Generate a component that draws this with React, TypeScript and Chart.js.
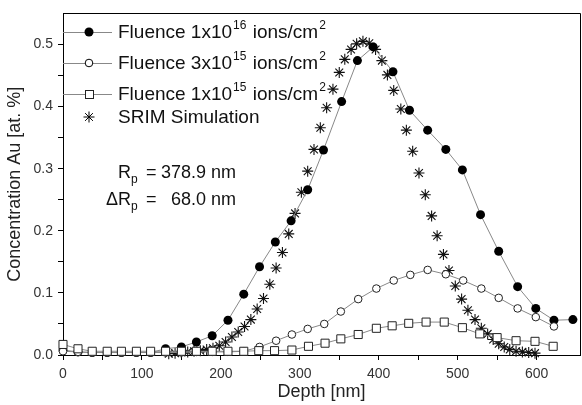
import React, { useEffect, useRef } from "react";
import { Chart, registerables } from "chart.js";

Chart.register(...registerables);

const depth1e16 = [0, 19, 37, 56, 74, 93, 111, 130, 150, 169, 189, 209, 229, 249, 269, 289, 310, 330, 353, 373, 393, 418, 439, 462, 485, 506, 529, 552, 576, 599, 622, 646];
const conc1e16 = [0.008, 0.005, 0.004, 0.004, 0.004, 0.004, 0.004, 0.010, 0.013, 0.021, 0.031, 0.056, 0.098, 0.142, 0.182, 0.216, 0.266, 0.330, 0.408, 0.474, 0.496, 0.456, 0.394, 0.362, 0.331, 0.298, 0.226, 0.167, 0.110, 0.075, 0.056, 0.057];

const depth3e15 = [0, 19, 37, 56, 74, 93, 111, 130, 150, 169, 189, 209, 229, 249, 270, 290, 310, 331, 352, 374, 397, 419, 440, 462, 485, 507, 530, 552, 576, 599, 622];
const conc3e15 = [0.006, 0.005, 0.004, 0.004, 0.004, 0.004, 0.004, 0.004, 0.004, 0.005, 0.005, 0.005, 0.006, 0.013, 0.023, 0.033, 0.042, 0.050, 0.070, 0.090, 0.107, 0.120, 0.129, 0.137, 0.130, 0.120, 0.107, 0.092, 0.075, 0.061, 0.046];

const depth1e15 = [0, 19, 37, 56, 74, 93, 111, 130, 150, 169, 189, 209, 229, 248, 268, 290, 311, 332, 352, 374, 397, 417, 438, 460, 483, 506, 528, 550, 574, 598, 621];
const conc1e15 = [0.017, 0.010, 0.006, 0.006, 0.006, 0.006, 0.006, 0.006, 0.006, 0.006, 0.006, 0.006, 0.006, 0.007, 0.007, 0.008, 0.014, 0.019, 0.026, 0.033, 0.043, 0.047, 0.051, 0.053, 0.053, 0.044, 0.034, 0.028, 0.023, 0.022, 0.014];

const depthSrim = [134, 142, 150, 158, 166, 174, 182, 190, 198, 206, 214, 222, 230, 238, 246, 254, 262, 270, 278, 286, 294, 302, 310, 318, 326, 334, 342, 350, 357, 365, 372, 380, 388, 396, 404, 411, 419, 428, 435, 443, 451, 459, 467, 474, 482, 489, 497, 505, 513, 522, 530, 538, 545, 552, 559, 566, 574, 582, 590, 598];
const concSrim = [0.002, 0.003, 0.004, 0.005, 0.006, 0.007, 0.009, 0.011, 0.015, 0.021, 0.029, 0.037, 0.046, 0.057, 0.074, 0.091, 0.114, 0.140, 0.165, 0.195, 0.228, 0.262, 0.296, 0.331, 0.366, 0.398, 0.428, 0.455, 0.476, 0.492, 0.501, 0.505, 0.502, 0.492, 0.474, 0.451, 0.426, 0.396, 0.362, 0.328, 0.293, 0.258, 0.224, 0.192, 0.162, 0.136, 0.111, 0.090, 0.072, 0.057, 0.043, 0.034, 0.025, 0.018, 0.013, 0.009, 0.006, 0.005, 0.004, 0.003];

const legendLabels = [
  { main: "Fluence 1x10", sup: "16", rest: " ions/cm", sup2: "2" },
  { main: "Fluence 3x10", sup: "15", rest: " ions/cm", sup2: "2" },
  { main: "Fluence 1x10", sup: "15", rest: " ions/cm", sup2: "2" },
  { main: "SRIM Simulation", sup: "", rest: "", sup2: "" },
];

const FONT = "'Liberation Sans', Arial, sans-serif";

const toPts = (xs: number[], ys: number[]) => xs.map((x, i) => ({ x, y: ys[i] }));

const overlayPlugin = {
  id: "overlay",
  afterDraw(chart: any) {
    const ctx = chart.ctx;
    const a = chart.chartArea;
    ctx.save();
    // frame
    ctx.strokeStyle = "#000";
    ctx.lineWidth = 1;
    ctx.beginPath();
    ctx.moveTo(Math.round(a.left) + 0.5, Math.round(a.top) + 0.5);
    ctx.lineTo(Math.round(a.right) + 0.5, Math.round(a.top) + 0.5);
    ctx.lineTo(Math.round(a.right) + 0.5, Math.round(a.bottom) + 0.5);
    ctx.stroke();

    // legend
    const rows = [32, 63, 94, 117];
    const styles = ["filled", "open", "square", "star"];
    ctx.textBaseline = "alphabetic";
    rows.forEach((cy, i) => {
      const st = styles[i];
      const mx = 89;
      if (st !== "star") {
        ctx.strokeStyle = "#888";
        ctx.lineWidth = 1;
        ctx.beginPath();
        ctx.moveTo(a.left, cy + 0.5);
        ctx.lineTo(112, cy + 0.5);
        ctx.stroke();
      }
      ctx.strokeStyle = "#000";
      ctx.lineWidth = 1;
      if (st === "filled") {
        ctx.fillStyle = "#000";
        ctx.beginPath();
        ctx.arc(mx, cy, 4.5, 0, Math.PI * 2);
        ctx.fill();
      } else if (st === "open") {
        ctx.fillStyle = "#fff";
        ctx.beginPath();
        ctx.arc(mx, cy, 3.8, 0, Math.PI * 2);
        ctx.fill();
        ctx.stroke();
      } else if (st === "square") {
        ctx.fillStyle = "#fff";
        ctx.fillRect(mx - 4, cy - 4, 8, 8);
        ctx.strokeStyle = "#222";
        ctx.strokeRect(mx - 3.5, cy - 3.5, 8, 8);
      } else {
        ctx.beginPath();
        for (let k = 0; k < 4; k++) {
          const ang = (k * Math.PI) / 4;
          const dx = Math.cos(ang) * 5.5;
          const dy = Math.sin(ang) * 5.5;
          ctx.moveTo(mx - dx, cy - dy);
          ctx.lineTo(mx + dx, cy + dy);
        }
        ctx.stroke();
      }
      const lab = legendLabels[i];
      let x = 118;
      const base = cy + 6;
      ctx.fillStyle = "#111";
      ctx.font = `19px ${FONT}`;
      ctx.fillText(lab.main, x, base);
      x += ctx.measureText(lab.main).width;
      if (lab.sup) {
        ctx.font = `12px ${FONT}`;
        ctx.fillText(lab.sup, x + 1, base - 9);
        x += ctx.measureText(lab.sup).width + 2;
      }
      if (lab.rest) {
        ctx.font = `19px ${FONT}`;
        ctx.fillText(lab.rest, x, base);
        x += ctx.measureText(lab.rest).width;
      }
      if (lab.sup2) {
        ctx.font = `12px ${FONT}`;
        ctx.fillText(lab.sup2, x + 1, base - 9);
      }
    });

    // annotation
    ctx.fillStyle = "#111";
    ctx.font = `18px ${FONT}`;
    ctx.textAlign = "left";
    ctx.fillText("R", 118, 178);
    ctx.fillText("\u0394R", 106, 205);
    const rw = ctx.measureText("R").width;
    const drw = ctx.measureText("\u0394R").width;
    ctx.font = `12px ${FONT}`;
    ctx.fillText("p", 118 + rw, 183);
    ctx.fillText("p", 106 + drw, 210);
    ctx.font = `18px ${FONT}`;
    ctx.fillText("=", 146, 178);
    ctx.fillText("=", 146, 205);
    ctx.textAlign = "right";
    ctx.fillText("378.9 nm", 236, 178);
    ctx.fillText("68.0 nm", 236, 205);
    ctx.restore();
  },
};

export default function App() {
  const ref = useRef<HTMLCanvasElement | null>(null);
  useEffect(() => {
    document.body.style.margin = "0";
    if (!ref.current) return;
    const chart = new Chart(ref.current, {
      type: "scatter",
      data: {
        datasets: [
          {
            label: "Fluence 1x10^15 ions/cm^2",
            data: toPts(depth1e15, conc1e15),
            showLine: true,
            borderColor: "#888",
            borderWidth: 1,
            pointStyle: "rect",
            pointRadius: 5.7,
            pointBorderColor: "#222",
            pointBackgroundColor: "#fff",
            pointBorderWidth: 1,
            order: 0,
            clip: false,
          },
          {
            label: "Fluence 3x10^15 ions/cm^2",
            data: toPts(depth3e15, conc3e15),
            showLine: true,
            borderColor: "#888",
            borderWidth: 1,
            pointStyle: "circle",
            pointRadius: 3.8,
            pointBorderColor: "#222",
            pointBackgroundColor: "#fff",
            pointBorderWidth: 1,
            order: 1,
            clip: false,
          },
          {
            label: "Fluence 1x10^16 ions/cm^2",
            data: toPts(depth1e16, conc1e16),
            showLine: true,
            borderColor: "#888",
            borderWidth: 1,
            pointStyle: "circle",
            pointRadius: 4.5,
            pointBorderColor: "#000",
            pointBackgroundColor: "#000",
            pointBorderWidth: 0,
            order: 2,
            clip: false,
          },
          {
            label: "SRIM Simulation",
            data: toPts(depthSrim, concSrim),
            showLine: false,
            pointStyle: "star",
            pointRadius: 5.5,
            pointBorderColor: "#111",
            pointBackgroundColor: "#111",
            pointBorderWidth: 1.1,
            order: 3,
            clip: false,
          },
        ],
      },
      options: {
        animation: false,
        responsive: false,
        devicePixelRatio: 1,
        layout: { autoPadding: false, padding: { top: 9, right: 2, left: 0, bottom: 0 } },
        plugins: { legend: { display: false }, tooltip: { enabled: false } },
        scales: {
          x: {
            type: "linear",
            min: 0,
            max: 655,
            afterBuildTicks: (s: any) => {
              s.ticks = s.ticks.filter((t: any) => Math.abs(t.value / 50 - Math.round(t.value / 50)) < 1e-6);
            },
            afterFit: (s: any) => {
              s.height = 50;
              s.paddingRight = 0;
            },
            ticks: {
              stepSize: 50,
              autoSkip: false,
              maxRotation: 0,
              padding: 6,
              color: "#333",
              font: { family: FONT, size: 14 },
              callback: (v: any) => (Math.abs(v % 100) < 1e-6 ? String(v) : ""),
            },
            grid: { drawOnChartArea: false, drawTicks: true, tickLength: 5, color: "#000" },
            border: { display: true, color: "#000", width: 1 },
            title: {
              display: true,
              text: "Depth [nm]",
              color: "#222",
              font: { family: FONT, size: 18 },
              padding: { top: 0, bottom: 2 },
            },
          },
          y: {
            type: "linear",
            min: 0,
            max: 0.55,
            afterBuildTicks: (s: any) => {
              s.ticks = s.ticks.filter((t: any) => t.value <= 0.5 + 1e-9);
            },
            afterFit: (s: any) => {
              s.width = 63;
            },
            ticks: {
              stepSize: 0.05,
              autoSkip: false,
              padding: 5,
              color: "#333",
              font: { family: FONT, size: 14 },
              callback: (v: any) => {
                const n = Number(v);
                return Math.abs(n * 10 - Math.round(n * 10)) < 1e-6 ? n.toFixed(1) : "";
              },
            },
            grid: { drawOnChartArea: false, drawTicks: true, tickLength: 5, color: "#000" },
            border: { display: true, color: "#000", width: 1 },
            title: {
              display: true,
              text: "Concentration Au [at. %]",
              color: "#222",
              font: { family: FONT, size: 18 },
              padding: { top: 4, bottom: 2 },
            },
          },
        },
      },
      plugins: [overlayPlugin],
    });
    return () => chart.destroy();
  }, []);
  return (
    <div style={{ width: 582, height: 405, background: "#fff" }}>
      <canvas ref={ref} width={582} height={405} />
    </div>
  );
}
